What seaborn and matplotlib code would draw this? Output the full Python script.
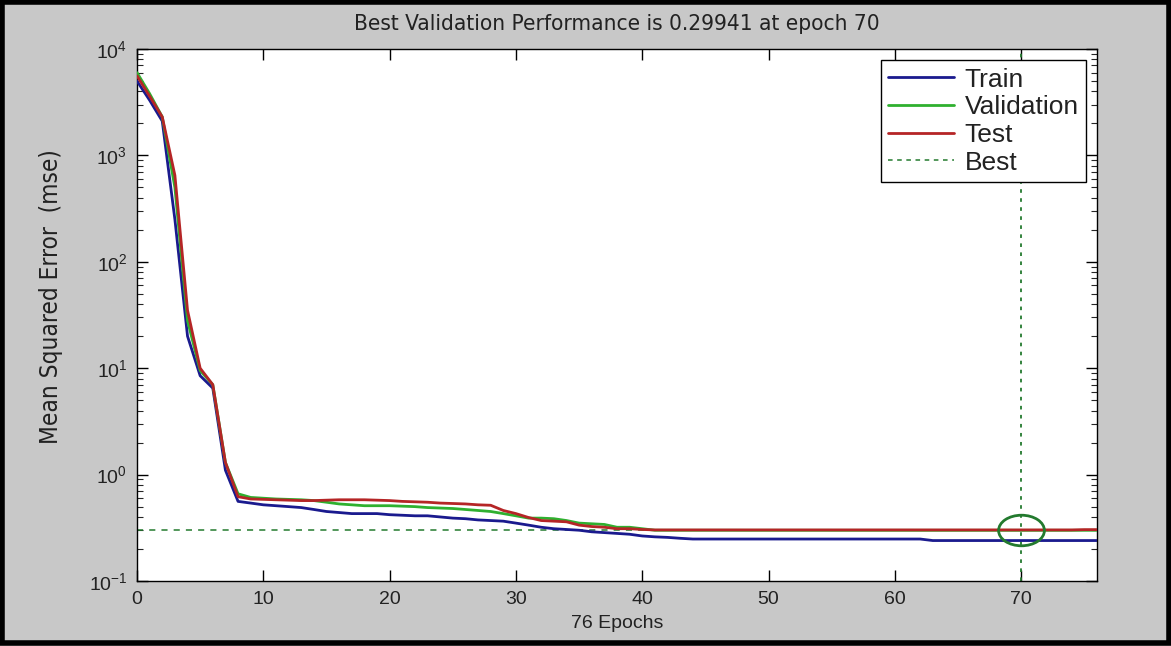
import numpy as np
import pandas as pd
import matplotlib
matplotlib.use("Agg")
import matplotlib.pyplot as plt
import seaborn as sns
from matplotlib.path import Path
from matplotlib.patches import Rectangle
from matplotlib.lines import Line2D
from matplotlib.ticker import LogLocator, FixedLocator

# ---- training record (mean squared error per epoch) ----
epochs = list(range(77))

train_mse = [5000, 3300, 2100, 250, 20, 8.5, 6.5, 1.1, 0.56, 0.54,
             0.52, 0.51, 0.50, 0.49, 0.47, 0.45, 0.44, 0.43, 0.43, 0.43,
             0.42, 0.415, 0.41, 0.41, 0.40, 0.39, 0.385, 0.375, 0.37, 0.365,
             0.35, 0.335, 0.32, 0.31, 0.305, 0.30, 0.29, 0.285, 0.28, 0.275,
             0.265, 0.26, 0.257, 0.252, 0.248, 0.248, 0.248, 0.248, 0.248, 0.248,
             0.248, 0.248, 0.248, 0.248, 0.248, 0.248, 0.248, 0.248, 0.248, 0.248,
             0.248, 0.248, 0.248, 0.24, 0.24, 0.24, 0.24, 0.24, 0.24, 0.24,
             0.24, 0.24, 0.24, 0.24, 0.24, 0.24, 0.24]

val_mse = [6000, 3800, 2300, 500, 28, 9.5, 7, 1.3, 0.66, 0.61,
           0.60, 0.59, 0.585, 0.58, 0.57, 0.55, 0.53, 0.52, 0.51, 0.51,
           0.51, 0.505, 0.50, 0.49, 0.485, 0.48, 0.47, 0.46, 0.45, 0.43,
           0.41, 0.39, 0.39, 0.385, 0.37, 0.35, 0.345, 0.34, 0.32, 0.32,
           0.31, 0.30, 0.2998, 0.2998, 0.2998, 0.2998, 0.2998, 0.2998, 0.2997, 0.2997,
           0.2997, 0.2997, 0.2997, 0.2997, 0.2997, 0.2996, 0.2996, 0.2996, 0.2996, 0.2996,
           0.2996, 0.2996, 0.2995, 0.2995, 0.2995, 0.2995, 0.2995, 0.2995, 0.2995, 0.2995,
           0.29941, 0.2995, 0.2995, 0.2995, 0.2995, 0.2996, 0.2996]

test_mse = [5600, 3600, 2300, 650, 35, 10, 7, 1.3, 0.62, 0.59,
            0.585, 0.58, 0.575, 0.57, 0.57, 0.575, 0.58, 0.58, 0.58, 0.575,
            0.57, 0.56, 0.555, 0.55, 0.54, 0.535, 0.53, 0.52, 0.515, 0.46,
            0.43, 0.395, 0.37, 0.365, 0.36, 0.335, 0.325, 0.32, 0.31, 0.31,
            0.305, 0.302, 0.302, 0.302, 0.302, 0.302, 0.302, 0.302, 0.302, 0.302,
            0.302, 0.302, 0.302, 0.302, 0.302, 0.302, 0.302, 0.302, 0.302, 0.302,
            0.302, 0.302, 0.302, 0.302, 0.302, 0.302, 0.302, 0.302, 0.302, 0.302,
            0.302, 0.302, 0.302, 0.302, 0.302, 0.304, 0.304]

best_epoch = 70
best_perf = 0.29941
n_epochs = 76

series_names = ["Train", "Validation", "Test"]
series_colors = {"Train": "#1a1a8e", "Validation": "#2fb02f", "Test": "#b52526"}
best_color = "#237a2e"

df = pd.DataFrame({"epoch": epochs, "Train": train_mse,
                   "Validation": val_mse, "Test": test_mse})
long_df = df.melt(id_vars="epoch", var_name="set", value_name="mse")

# ---- style ----
sns.set_theme(style="ticks")
plt.rcParams["font.family"] = ["Liberation Sans", "DejaVu Sans"]
narrow = ["DejaVu Sans Condensed", "Liberation Sans Narrow", "DejaVu Sans"]
bg = "#c8c8c8"
txt = "#222222"

fig = plt.figure(figsize=(11.71, 6.46), dpi=100, facecolor=bg)
ax = fig.add_axes([137 / 1171, 1 - 581 / 646, (1097 - 137) / 1171, (581 - 49) / 646])
ax.set_facecolor("white")

sns.lineplot(data=long_df, x="epoch", y="mse", hue="set", hue_order=series_names,
             palette=series_colors, linewidth=2.0, ax=ax, legend=False,
             estimator=None, zorder=3)

ax.set_yscale("log")
ax.set_xlim(0, n_epochs)
ax.set_ylim(0.1, 1e4)

# best-validation guides
ax.axhline(best_perf, color=best_color, linestyle=(0, (4, 4)), linewidth=1.1, zorder=2)
ax.axvline(best_epoch, color=best_color, linestyle=(0, (2, 3)), linewidth=1.3, zorder=2)

# oval marker at the best epoch
ell = Path.unit_circle()
ell = Path(ell.vertices * np.array([1.5, 1.0]), ell.codes)
ax.plot([best_epoch], [best_perf], marker=ell, markersize=33, markerfacecolor="none",
        markeredgecolor=best_color, markeredgewidth=2.0, linestyle="none", zorder=4)

# legend
handles = [Line2D([], [], color=series_colors[n], linewidth=2.0) for n in series_names]
handles.append(Line2D([], [], color=best_color, linestyle=(0, (3, 3)), linewidth=1.1))
leg = ax.legend(handles, series_names + ["Best"], loc="upper right",
                bbox_to_anchor=(0.9885, 0.979), fontsize=19, frameon=True, fancybox=False,
                edgecolor="black", framealpha=1, handlelength=2.5, handletextpad=0.4,
                borderpad=0.28, labelspacing=0.14, borderaxespad=0)
leg.get_frame().set_linewidth(1.0)
for t in leg.get_texts():
    t.set_color(txt)

# ticks
ax.xaxis.set_major_locator(FixedLocator([0, 10, 20, 30, 40, 50, 60, 70]))
ax.yaxis.set_major_locator(LogLocator(base=10, numticks=10))
ax.yaxis.set_minor_locator(LogLocator(base=10, subs=np.arange(2, 10), numticks=10))
ax.tick_params(which="major", direction="in", length=8, width=1.0, top=True, right=True,
               labelsize=14, colors="black", labelcolor=txt, pad=7)
ax.tick_params(which="minor", direction="in", length=4, width=0.8, top=False, right=True,
               left=True, bottom=False)
for s in ax.spines.values():
    s.set_visible(True)
    s.set_color("black")
    s.set_linewidth(1.0)

ax.set_title(f"Best Validation Performance is {best_perf} at epoch {best_epoch}",
             fontsize=16.2, family=narrow, fontstretch="condensed", color=txt, pad=14)
ax.set_xlabel(f"{n_epochs} Epochs", fontsize=14, color=txt, labelpad=5)
ax.set_ylabel("Mean Squared Error  (mse)", fontsize=17.5, family=narrow,
              fontstretch="condensed", color=txt)
ax.yaxis.set_label_coords(-0.077, 0.535)

# dark frame round the figure
fig.patches.append(Rectangle((0.002, 0.004), 0.996, 0.993, transform=fig.transFigure,
                             fill=False, edgecolor="black", linewidth=4))

fig.savefig("out.png", dpi=100, facecolor=bg)
